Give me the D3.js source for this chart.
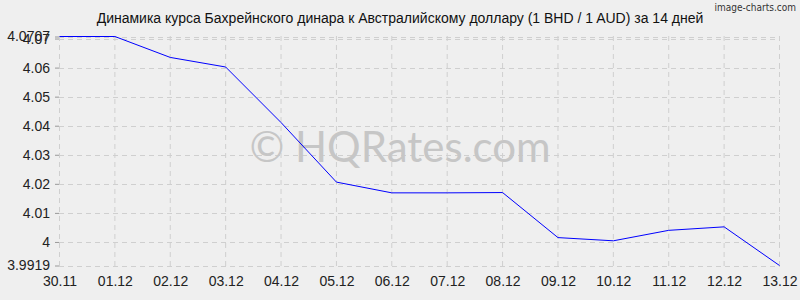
<!DOCTYPE html>
<html><head><meta charset="utf-8">
<script src="https://cdn.jsdelivr.net/npm/d3@7"></script>
<style>body{margin:0;background:#efefef}svg{display:block}</style>
</head><body>
<svg id="c" width="800" height="300"></svg>
<script>
const dates = ["30.11","01.12","02.12","03.12","04.12","05.12","06.12","07.12","08.12","09.12","10.12","11.12","12.12","13.12"];
const rates = [4.0707,4.0707,4.0635,4.0602,4.0411,4.0206,4.0169,4.0169,4.0170,4.0015,4.0004,4.0040,4.0052,3.9919];
const yTicks = [3.9919,4,4.01,4.02,4.03,4.04,4.05,4.06,4.07,4.0707];
const yMin = 3.9919, yMax = 4.0707;
const title = "Динамика курса Бахрейнского динара к Австралийскому доллару (1 BHD / 1 AUD) за 14 дней";

const svg = d3.select("#c");
svg.append("rect").attr("width",800).attr("height",300).attr("fill","#efefef");
const x = d3.scalePoint().domain(dates).range([59.5,779.5]);
const y = d3.scaleLinear().domain([yMin,yMax]).range([265.5,36.5]);

const g = svg.append("g");
g.selectAll(".vg").data(dates).join("line")
  .attr("x1",d=>x(d)).attr("x2",d=>x(d)).attr("y1",36).attr("y2",266)
  .attr("stroke","#cfcfcf").attr("stroke-dasharray","5,4");
g.selectAll(".hg").data(yTicks).join("line")
  .attr("x1",59).attr("x2",780).attr("y1",d=>Math.round(y(d))+0.5).attr("y2",d=>Math.round(y(d))+0.5)
  .attr("stroke","#cfcfcf").attr("stroke-dasharray","5,4");

svg.append("text").attr("x",400).attr("y",162).attr("text-anchor","middle")
  .attr("font-family","Lato").attr("font-size",42).attr("fill","#c6c6c6").text("© HQRates.com");

const ya = d3.axisLeft(y).tickValues(yTicks).tickFormat(d=>String(d)).tickSize(4).tickPadding(5);
const yg = svg.append("g").attr("transform","translate(59,0)").call(ya);
yg.select(".domain").remove();
yg.selectAll("line").attr("stroke","#999");
yg.selectAll("text").attr("font-family","Liberation Sans, Arial").attr("font-size",14).attr("fill","#222");

const xa = d3.axisBottom(x).tickSize(0).tickPadding(10);
const xg = svg.append("g").attr("transform","translate(0,266)").call(xa);
xg.select(".domain").remove();
xg.selectAll("text").attr("font-family","Liberation Sans, Arial").attr("font-size",14).attr("fill","#222");

const line = d3.line().x((d,i)=>x(dates[i])).y(d=>y(d));
svg.append("path").datum(rates).attr("d",line).attr("fill","none").attr("stroke","#0000ff").attr("stroke-width",1);

svg.append("text").attr("x",400).attr("y",23).attr("text-anchor","middle")
  .attr("font-family","Liberation Sans, Arial").attr("font-size",14).attr("fill","#111").text(title);
svg.append("text").attr("x",796).attr("y",11).attr("text-anchor","end")
  .attr("font-family","DejaVu Sans Condensed, DejaVu Sans").attr("font-stretch","condensed").attr("font-size",10).attr("fill","#333").text("image-charts.com");
</script>
</body></html>
